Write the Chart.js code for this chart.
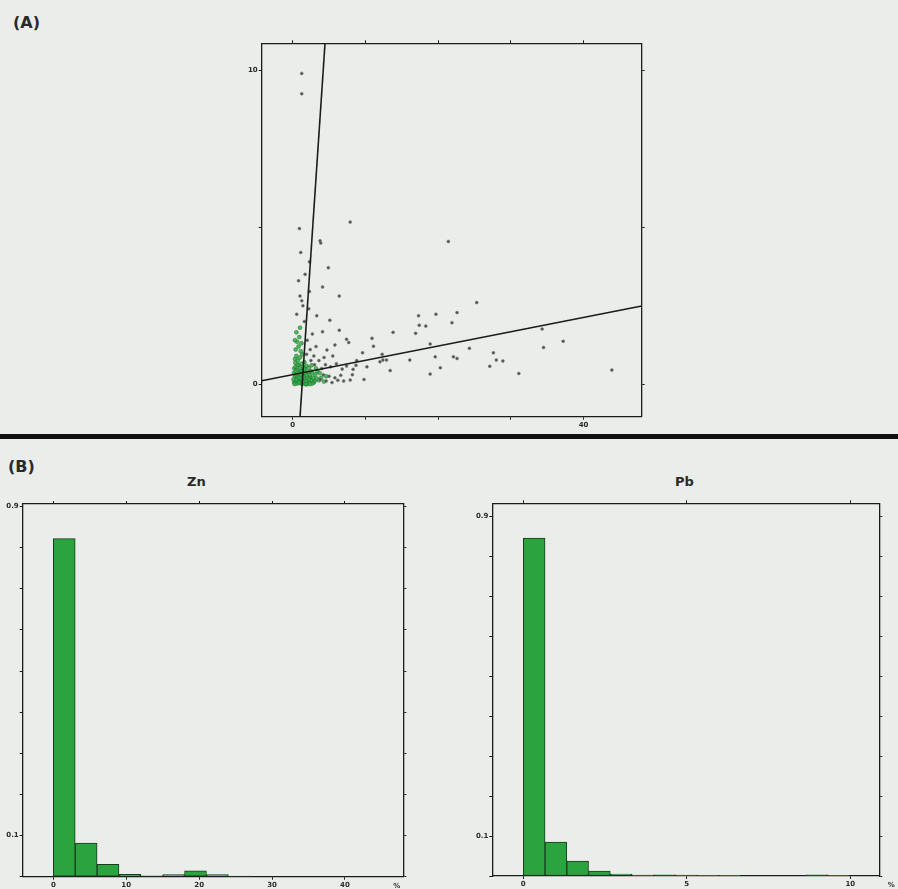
<!DOCTYPE html>
<html>
<head>
<meta charset="utf-8">
<script src="https://cdn.jsdelivr.net/npm/chart.js@4.4.1/dist/chart.umd.min.js"></script>
<style>
  body { margin: 0; background: #ebedea; width: 898px; height: 889px; position: relative; overflow: hidden; font-family: "DejaVu Sans", sans-serif; color: #2a2a2a; }
  canvas { position: absolute; }
  .lbl { position: absolute; font-weight: 600; }
  #divider { position: absolute; left: 0; top: 434px; width: 898px; height: 5px; background: #111; }
</style>
</head>
<body>
<div class="lbl" style="left:13px;top:13px;font-size:16px;">(A)</div>
<div id="divider"></div>
<div class="lbl" style="left:8px;top:457px;font-size:16px;">(B)</div>
<div class="lbl" style="left:187px;top:474px;font-size:13px;">Zn</div>
<div class="lbl" style="left:675px;top:474px;font-size:13px;">Pb</div>

<canvas id="scatterChart" style="left:230px;top:30px;" width="440" height="405"></canvas>
<canvas id="znChart" style="left:0px;top:495px;" width="420" height="394"></canvas>
<canvas id="pbChart" style="left:460px;top:495px;" width="438" height="394"></canvas>

<script>
// scatter (A): Zn % on x, Pb % on y
// dense low-grade samples (drawn green)
const clusterZn = [0.2, 0.4, 0.6, 0.8, 1.0, 1.2, 1.4, 1.6, 1.8, 2.0, 2.2, 2.4, 2.6, 2.8, 3.0, 3.3,
  0.3, 0.5, 0.7, 0.9, 1.1, 1.3, 1.5, 1.7, 1.9, 2.1, 2.3, 2.5, 2.7, 3.1, 3.4,
  0.2, 0.4, 0.6, 0.8, 1.0, 1.2, 1.4, 1.6, 1.9, 2.2, 2.6,
  0.3, 0.5, 0.7, 1.0, 1.3, 0.4, 0.8, 1.1, 0.6, 0.9, 1.2, 0.3, 0.5, 1.0,
  0.1, 0.15, 0.25, 0.55, 0.95, 1.25, 1.75, 2.25, 2.9, 3.6, 0.45, 0.85, 1.45, 2.0, 1.15, 0.65, 1.55, 0.35,
  3.9, 4.3, 2.7, 3.2, 1.8, 2.4, 3.7, 4.6];
const clusterPb = [0.05, 0.1, 0.02, 0.12, 0.05, 0.15, 0.08, 0.2, 0.1, 0.18, 0.06, 0.22, 0.12, 0.2, 0.1, 0.18,
  0.25, 0.3, 0.22, 0.35, 0.28, 0.4, 0.32, 0.45, 0.3, 0.38, 0.3, 0.42, 0.35, 0.3, 0.4,
  0.5, 0.55, 0.45, 0.6, 0.5, 0.65, 0.55, 0.7, 0.58, 0.52, 0.6,
  0.8, 0.9, 0.75, 0.85, 0.95, 1.1, 1.2, 1.05, 1.35, 1.5, 1.3, 1.4, 1.65, 1.8,
  0.15, 0.35, 0.0, 0.15, 0.2, 0.0, 0.0, 0.15, 0.05, 0.12, 0.42, 0.05, 0.25, 0.0, 0.42, 0.62, 0.48, 0.68,
  0.2, 0.08, 0.02, 0.5, 0.0, 0.0, 0.35, 0.25];

// remaining samples (drawn dark)
const otherZn = [1.24, 1.24, 7.9, 0.92, 3.76, 3.85, 21.4, 2.3, 4.9, 4.1, 2.3, 6.4, 1.0, 1.24, 25.3, 17.3, 19.7, 22.6, 0.55, 3.3,
  17.4, 18.3, 21.9, 5.1, 6.4, 4.1, 13.8, 16.9, 34.3, 7.4, 7.7, 5.8, 11.1, 18.9, 37.2, 34.5, 24.3, 4.7, 27.6, 9.6,
  19.6, 22.1, 22.6, 16.1, 12.4, 12.9, 12.0, 28.0, 28.9, 27.1, 20.3, 8.7, 8.3, 13.4, 31.1, 43.9, 18.9, 9.8, 7.9,
  3.8, 4.2, 4.6, 5.0, 5.4, 5.8, 6.2, 6.6, 7.0, 4.0, 4.5, 5.2, 6.0, 6.8, 7.4, 3.6, 4.3, 5.5, 2.9, 3.2,
  2.4, 2.0, 2.7, 1.6, 2.2, 1.4, 0.8, 1.7, 1.1, 1.9, 2.5, 3.0, 8.2, 8.8, 10.2, 10.9, 12.3];
const otherPb = [9.91, 9.26, 5.17, 4.96, 4.57, 4.5, 4.55, 3.9, 3.71, 3.1, 2.95, 2.81, 2.81, 2.66, 2.6, 2.18, 2.23, 2.28, 2.23, 2.18,
  1.88, 1.85, 1.96, 2.04, 1.72, 1.67, 1.65, 1.62, 1.76, 1.43, 1.33, 1.25, 1.21, 1.28, 1.37, 1.17, 1.14, 1.09, 1.0, 1.0,
  0.87, 0.87, 0.82, 0.77, 0.77, 0.77, 0.71, 0.77, 0.74, 0.57, 0.52, 0.6, 0.47, 0.43, 0.34, 0.45, 0.32, 0.15, 0.13,
  0.15, 0.3, 0.1, 0.25, 0.05, 0.2, 0.12, 0.28, 0.1, 0.5, 0.62, 0.55, 0.65, 0.48, 0.58, 0.75, 0.85, 0.9, 0.9, 1.2,
  1.1, 1.4, 1.6, 2.0, 2.4, 2.5, 3.3, 3.5, 4.2, 0.95, 0.75, 0.62, 0.3, 0.75, 0.55, 1.46, 0.95];

// the two fitted lines, end points
const steepLineZn = [1.0, 4.44];
const steepLinePb = [-1.04, 10.87];
const flatLineZn = [-4.27, 48.0];
const flatLinePb = [0.105, 2.49];

// histograms (B): relative frequency per bin
const znBinWidth = 3;
const znFreq = [0.822, 0.082, 0.030, 0.006, 0.002, 0.005, 0.014, 0.005, 0.001];
const pbBinWidth = 0.665;
const pbFreq = [0.845, 0.085, 0.037, 0.012, 0.005, 0.002, 0.003, 0.002, 0.001, 0.001, 0, 0, 0, 0.003, 0.001];

const scatterXTicks = [0, 40];
const scatterYTicks = [0, 10];
const znXTicks = [0, 10, 20, 30, 40];
const pbXTicks = [0, 5, 10];
const histYTicks = [0.1, 0.9];

const ink = '#1c1c1c';
const tickFont = { family: 'DejaVu Sans', size: 7, weight: 'bold' };

function toPoints(xs, ys) {
  return xs.map((x, i) => ({ x: x, y: ys[i] }));
}

function binPoints(freq, width) {
  return freq.map((f, i) => ({ x: (i + 0.5) * width, y: f }));
}

// '%' unit written at the end of the x axis
const unitLabel = {
  id: 'unitLabel',
  afterDraw(chart, args, opts) {
    if (!opts.text) return;
    const ctx = chart.ctx;
    const x = chart.scales.x.getPixelForValue(opts.value);
    ctx.save();
    ctx.font = 'bold 7px DejaVu Sans';
    ctx.fillStyle = '#333';
    ctx.textAlign = 'center';
    ctx.textBaseline = 'middle';
    ctx.fillText(opts.text, x, chart.chartArea.bottom + 9);
    ctx.restore();
  }
};

function axis(position, min, max, step, shown, fitSize, labels) {
  const horizontal = position === 'top' || position === 'bottom';
  return {
    type: 'linear',
    position: position,
    min: min,
    max: max,
    offset: false,
    border: { display: true, color: ink, width: 1.3 },
    grid: { display: true, offset: false, drawOnChartArea: false, drawTicks: true, tickLength: 3, color: ink, lineWidth: 1 },
    ticks: {
      display: labels,
      stepSize: step,
      includeBounds: false,
      autoSkip: false,
      maxRotation: 0,
      padding: 1,
      color: '#2a2a2a',
      font: tickFont,
      callback: (v) => {
        const hit = shown.find(s => Math.abs(s - v) < 1e-6);
        return hit === undefined ? '' : String(hit);
      }
    },
    afterFit: (s) => {
      if (horizontal) s.height = fitSize; else s.width = fitSize;
    }
  };
}

Chart.register(unitLabel);

// (A) scatter
new Chart(document.getElementById('scatterChart'), {
  type: 'scatter',
  data: {
    datasets: [
      {
        data: toPoints(steepLineZn, steepLinePb),
        showLine: true, borderColor: ink, borderWidth: 1.6, pointRadius: 0
      },
      {
        data: toPoints(flatLineZn, flatLinePb),
        showLine: true, borderColor: ink, borderWidth: 1.6, pointRadius: 0
      },
      {
        data: toPoints(otherZn, otherPb),
        pointRadius: 1.5, pointBorderWidth: 0.5,
        backgroundColor: '#4f564f', borderColor: '#7a807a'
      },
      {
        data: toPoints(clusterZn, clusterPb),
        pointRadius: 2, pointBorderWidth: 0.5,
        backgroundColor: 'rgba(52,170,70,0.85)', borderColor: 'rgba(30,110,45,0.9)'
      }
    ]
  },
  options: {
    responsive: false,
    animation: false,
    layout: { padding: { top: 13.3, right: 28.3, bottom: 0, left: 0 } },
    plugins: { legend: { display: false }, tooltip: { enabled: false }, unitLabel: {} },
    scales: {
      x: axis('bottom', -4.27, 48.0, 10, scatterXTicks, 18.3, true),
      x2: axis('top', -4.27, 48.0, 10, [], 0, false),
      y: axis('left', -1.04, 10.87, 5, scatterYTicks, 31.7, true),
      y2: axis('right', -1.04, 10.87, 5, [], 0, false)
    }
  }
});

function histogram(id, freq, width, xMin, xMax, xStep, xTicks, yMax, pad, yWidth, xHeight, unitValue) {
  new Chart(document.getElementById(id), {
    type: 'bar',
    data: {
      datasets: [{
        data: binPoints(freq, width),
        backgroundColor: '#2ba33f',
        borderColor: '#173c1d',
        borderWidth: 1,
        borderSkipped: false,
        barPercentage: 1,
        categoryPercentage: 1
      }]
    },
    options: {
      responsive: false,
      animation: false,
      layout: { padding: pad },
      plugins: { legend: { display: false }, tooltip: { enabled: false }, unitLabel: { text: '%', value: unitValue } },
      scales: {
        x: axis('bottom', xMin, xMax, xStep, xTicks, xHeight, true),
        x2: axis('top', xMin, xMax, xStep, [], 0, false),
        y: axis('left', 0, yMax, 0.1, histYTicks, yWidth, true),
        y2: axis('right', 0, yMax, 0.1, [], 0, false)
      }
    }
  });
}

histogram('znChart', znFreq, znBinWidth, -4.2, 48.0, 10, znXTicks, 0.906,
  { top: 9, right: 16.7, bottom: 0, left: 0 }, 22.7, 12.3, 47.1);
histogram('pbChart', pbFreq, pbBinWidth, -0.948, 10.887, 5, pbXTicks, 0.932,
  { top: 8.3, right: 18.7, bottom: 0, left: 0 }, 32.3, 13, 11.25);
</script>
</body>
</html>
